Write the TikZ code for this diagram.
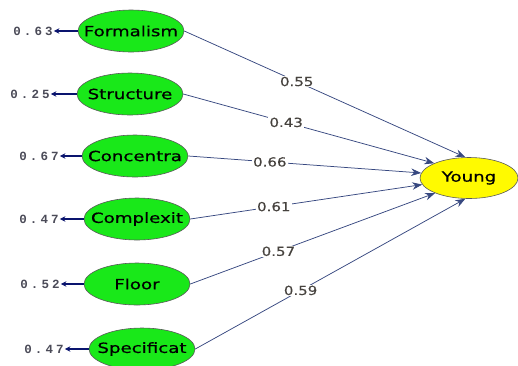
\documentclass[tikz,border=0pt]{standalone}
\usepackage{fontspec}
\newfontfamily\latfont[FakeStretch=1.3,FakeBold=0.6]{DejaVu Sans}
\newfontfamily\coeffont[FakeStretch=1.2,FakeBold=0.4]{DejaVu Sans}
\newfontfamily\errfont[LetterSpace=25]{Liberation Mono}
\usetikzlibrary{arrows.meta,shapes.geometric}
\definecolor{latgreen}{RGB}{25,232,25}
\definecolor{latyellow}{RGB}{255,250,0}
\definecolor{pathblue}{RGB}{55,72,128}
\definecolor{errblue}{RGB}{10,20,110}
\definecolor{coefgray}{RGB}{70,66,62}
\definecolor{errgray}{RGB}{75,75,88}

\begin{document}
\begin{tikzpicture}[
  x=1pt,y=-1pt,
  latent/.style={ellipse,draw=black!65,line width=0.6pt,fill=latgreen,minimum width=106pt,minimum height=42pt,inner xsep=-12pt,inner ysep=0pt,font=\latfont\fontsize{14pt}{17pt}\selectfont},
  target/.style={latent,fill=latyellow,minimum width=98pt,minimum height=41pt},
  errlbl/.style={inner sep=1pt,text=errgray,font=\errfont\bfseries\fontsize{12.5pt}{14pt}\selectfont},
  coef/.style={fill=white,inner sep=1pt,text=coefgray,font=\coeffont\fontsize{12.5pt}{14pt}\selectfont},
  path/.style={draw=pathblue,line width=0.75pt,-{Stealth[length=10pt,width=7.5pt]}},
  errarrow/.style={draw=errblue,line width=1.4pt,-{Stealth[length=5.5pt,width=5.5pt]}}
]

\useasboundingbox (0,0) rectangle (518,365);

\node[target] (young) at (469,178) {Young};

\foreach \nm/\txt/\cx/\cy/\err/\ex/\w/\p/\ang in {
  formalism/Formalism/131/31/0.63/33/0.55/0.40/100,
  structure/Structure/130/94/0.25/30/0.43/0.41/157,
  concentra/Concentra/135/156/0.67/39/0.66/0.35/174,
  complexit/Complexit/137/219/0.47/39/0.61/0.36/188,
  floor/Floor/137/284/0.52/40/0.57/0.36/204,
  specificat/Specificat/142/349/0.47/44/0.59/0.39/260}
{
  \node[latent] (\nm) at (\cx,\cy) {\txt};
  \node[errlbl] (e\nm) at (\ex,\cy) {\err};
  \draw[errarrow] (\nm) -- (e\nm);
  \draw[path] (\nm.east) -- node[coef,pos=\p] {\w} (young.\ang);
}

\end{tikzpicture}
\end{document}
